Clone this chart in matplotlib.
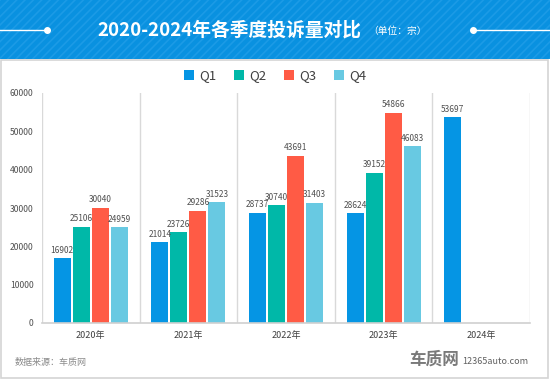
import matplotlib
matplotlib.use("Agg")
import matplotlib.pyplot as plt
from matplotlib.patches import Rectangle
from matplotlib.lines import Line2D
import numpy as np

plt.rcParams['font.family'] = ['Noto Sans CJK SC', 'DejaVu Sans']

years = ["2020年", "2021年", "2022年", "2023年", "2024年"]
series_names = ["Q1", "Q2", "Q3", "Q4"]
q1 = [16902, 21014, 28737, 28624, 53697]
q2 = [25106, 23726, 30740, 39152, None]
q3 = [30040, 29286, 43691, 54866, None]
q4 = [24959, 31523, 31403, 46083, None]
series = [q1, q2, q3, q4]
colors = ["#0595E4", "#00B8A8", "#FF5B45", "#68C9E2"]
yticks = [0, 10000, 20000, 30000, 40000, 50000, 60000]

W, H = 550, 380
fig = plt.figure(figsize=(W/100, H/100), dpi=100)
fig.patch.set_facecolor("white")

def fx(px): return px / W
def fy(py): return 1 - py / H

# header band
plt.rcParams['hatch.linewidth'] = 1.2
hdr = Rectangle((0, fy(59)), 1, 59/H, transform=fig.transFigure,
                facecolor="#0991E0", edgecolor="#1C9BE6", lw=0, hatch="////", zorder=0)
fig.patches.append(hdr)
fig.text(fx(97), fy(30), "2020-2024年各季度投诉量对比", color="white",
         fontsize=13.5, fontweight="bold", ha="left", va="center")
fig.text(fx(368), fy(31), "（单位：宗）", color="white", fontsize=7,
         ha="left", va="center")
fig.lines.append(Line2D([0, fx(47)], [fy(30), fy(30)], transform=fig.transFigure,
                        color="white", lw=1))
fig.lines.append(Line2D([fx(473), 1], [fy(30), fy(30)], transform=fig.transFigure,
                        color="white", lw=1))
for xd in (47, 473):
    fig.lines.append(Line2D([fx(xd)], [fy(30)], transform=fig.transFigure,
                            marker="o", ms=4, color="white", lw=0))

# panel border
panel = Rectangle((fx(1), fy(378)), fx(547), (378-60)/H, transform=fig.transFigure,
                  facecolor="none", edgecolor="#D4D4D4", lw=1.2, zorder=0)
fig.patches.append(panel)

ax = fig.add_axes([fx(42), fy(323), fx(530-42), (323-93)/H])
ax.set_facecolor("none")
x = np.arange(len(years))
bw = 0.174
step = 0.195
handles = []
for i, (vals, c) in enumerate(zip(series, colors)):
    xs = [xx + (i - 1.5) * step for xx, v in zip(x, vals) if v is not None]
    vs = [v for v in vals if v is not None]
    b = ax.bar(xs, vs, width=bw, color=c, label=series_names[i], zorder=2)
    handles.append(b)
    for xx, v in zip(xs, vs):
        ax.annotate(f"{v}", (xx, v), xytext=(0, 2.5), textcoords="offset points",
                    ha="center", va="bottom", fontsize=6, color="#505050")

ax.set_xlim(-0.5, len(years) - 0.5)
ax.set_ylim(0, 60000)
for b in np.arange(-0.5, len(years), 1):
    ax.axvline(b, color="#D9D9D9", lw=1, zorder=1)
for s in ["top", "right", "left"]:
    ax.spines[s].set_visible(False)
ax.spines["bottom"].set_color("#D0D0D0")
ax.spines["bottom"].set_linewidth(1.2)
ax.set_yticks(yticks)
ax.set_yticklabels([str(t) for t in yticks], fontsize=6.2, color="#505050")
ax.set_xticks(x)
ax.set_xticklabels(years, fontsize=6.5, color="#404040")
ax.tick_params(axis="both", length=0)
ax.tick_params(axis="y", pad=6)
ax.tick_params(axis="x", pad=6)

leg = ax.legend(handles=handles, loc="center",
                bbox_to_anchor=((275 - 42) / 488, (323 - 76) / 230),
                ncol=4, frameon=False, fontsize=9.5, handlelength=0.75, handleheight=0.75,
                handletextpad=0.4, columnspacing=1.35, labelcolor="#404040")

fig.text(fx(15), fy(363), "数据来源：车质网", fontsize=6.5, color="#8A8A8A",
         ha="left", va="center")
fig.text(fx(434), fy(360), "车质网", fontsize=12, fontweight="bold", color="#7A7A7A",
         ha="center", va="center")
fig.text(fx(462), fy(362), "12365auto.com", fontsize=6.5, color="#606060",
         ha="left", va="center")

fig.savefig("out.png", dpi=100)
